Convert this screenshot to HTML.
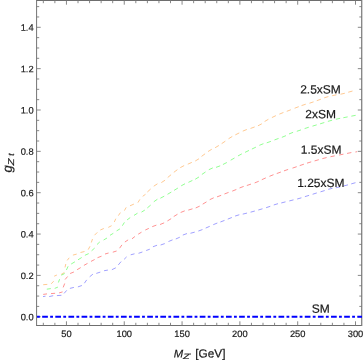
<!DOCTYPE html>
<html><head><meta charset="utf-8"><title>plot</title>
<style>html,body{margin:0;padding:0;background:#fff;overflow:hidden}body{width:363px;height:361px;position:relative;font-family:"Liberation Sans",sans-serif}</style>
</head><body>
<svg width="363" height="361" viewBox="0 0 363 361" style="position:absolute;left:0;top:0;font-family:'Liberation Sans',sans-serif;text-rendering:geometricPrecision;will-change:transform" fill="#1a1a1a" stroke="#1a1a1a" stroke-width="0.2">
<path d="M43.20 284.70L47.30 284.40M51.20 283.80L53.70 281.20M54.20 276.20L56.90 275.00M61.10 274.50L64.40 272.50M65.00 267.40L65.80 264.00M67.20 260.40L69.20 257.80M72.90 255.10L76.70 254.10M80.50 252.50L84.50 251.50M88.20 249.60L90.00 246.30M91.30 242.50L92.50 239.00M94.50 235.20L97.30 232.40M100.30 230.00L103.80 228.50M108.30 227.40L111.60 225.70M114.30 222.00L115.80 218.70M118.40 215.60L120.40 212.60M124.40 210.60L126.20 207.40M130.00 205.80L133.90 204.10M137.90 202.60L139.90 199.40M142.70 196.30L145.50 194.30M147.36 191.97L150.64 189.03M153.75 186.19L157.45 183.81M161.35 182.59L165.05 180.21M167.71 177.51L171.09 174.69M173.83 172.31L177.37 169.69M180.27 167.65L184.13 165.55M187.79 164.20L191.81 162.40M195.22 161.04L198.98 158.76M201.53 156.41L205.07 153.79M208.03 151.56L211.77 149.24M215.10 147.72L218.90 145.48M221.67 143.63L225.33 141.17M228.53 138.75L232.27 136.45M235.34 134.89L239.26 132.91M242.76 131.13L246.84 129.47M250.53 128.45L254.67 126.95M257.95 125.82L261.85 123.78M264.60 121.51L268.40 119.29M271.91 117.55L275.89 115.65M279.36 114.13L283.44 112.47M286.75 111.34L290.85 109.76M294.64 108.23L298.76 106.67M301.56 105.59L305.74 104.21M309.41 103.23L313.59 101.87M316.78 100.70L320.92 99.20M324.19 97.84L328.41 96.56M332.20 95.70L336.50 94.80M340.50 94.23L344.80 93.27M348.23 92.23L352.47 91.07" stroke="#ffaa55" stroke-width="1.0" stroke-opacity="0.64" fill="none"/>
<path d="M46.80 289.20L50.80 288.60M54.70 288.40L57.90 287.10M58.40 282.50L59.60 279.20M61.40 275.20L64.70 273.50M66.40 270.00L68.10 266.30M71.20 264.00L74.90 261.80M78.00 259.80L81.70 257.50M84.90 255.30L88.70 253.60M91.60 250.75L94.65 248.10M97.00 244.50L99.80 241.90M103.60 240.00L107.00 238.00M110.00 235.30L113.30 233.30M116.60 230.90L119.90 228.90M122.40 225.70L124.40 222.40M127.10 219.90L130.20 217.60M134.00 215.40L137.50 213.20M141.50 212.10L144.80 210.10M147.32 207.93L150.68 205.07M153.80 201.76L157.40 199.24M160.36 198.23L164.24 196.17M167.50 194.31L171.30 192.09M174.12 190.35L177.88 188.05M181.17 185.85L185.03 183.75M188.42 182.35L192.38 180.45M195.23 179.25L198.97 176.95M201.88 174.44L205.52 171.96M208.80 169.72L212.80 167.88M216.04 167.37L220.16 165.83M222.95 164.51L226.85 162.49M230.69 160.19L234.51 158.01M237.96 155.94L241.84 153.86M245.02 152.36L248.98 150.44M251.92 149.05L255.88 147.15M259.36 145.32L263.44 143.68M266.72 142.83L270.88 141.37M274.44 139.96L278.56 138.44M281.87 137.34L285.93 135.66M289.00 133.96L293.10 132.34M296.81 131.30L300.99 129.90M304.61 128.58L308.79 127.22M312.49 126.14L316.71 124.86M320.10 123.84L324.30 122.56M327.88 121.39L332.12 120.21M335.85 119.28L340.15 118.32M343.34 117.72L347.66 116.88M351.34 116.17L355.66 115.33" stroke="#55ff55" stroke-width="1.0" stroke-opacity="0.64" fill="none"/>
<path d="M43.20 294.40L47.00 293.90M51.00 293.60L55.10 293.30M59.10 292.90L62.60 291.90M63.20 287.40L64.70 283.50M65.10 279.50L67.60 276.50M70.10 273.50L73.90 272.00M77.10 269.70L80.70 267.60M83.90 265.40L87.50 263.40M91.00 261.40L94.65 259.50M97.50 257.70L101.50 256.20M105.00 254.00L108.60 253.00M112.80 252.20L116.60 251.00M119.60 248.20L121.90 244.90M124.90 242.00L128.10 239.90M132.00 238.80L134.90 236.50M138.20 234.20L141.50 232.20M145.30 230.00L148.80 228.40M152.23 226.66L156.37 225.14M160.06 224.53L164.14 222.87M167.43 220.95L171.17 218.65M173.72 216.54L177.48 214.26M180.66 212.47L184.74 210.83M188.30 210.10L192.50 208.80M195.70 207.96L199.70 206.14M202.71 204.12L206.49 201.88M209.71 199.70L213.69 197.80M217.04 196.87L221.16 195.33M224.44 193.98L228.56 192.42M232.26 191.11L236.34 189.49M239.54 187.98L243.66 186.42M246.82 185.50L250.98 184.10M254.66 182.92L258.74 181.28M261.79 179.70L265.81 177.90M269.46 176.32L273.54 174.68M276.74 173.56L280.86 172.04M283.97 170.86L288.13 169.44M292.51 168.10L296.69 166.70M299.72 165.60L303.88 164.20M307.00 163.15L311.20 161.85M314.58 160.90L318.82 159.70M322.37 158.64L326.63 157.56M330.45 156.75L334.75 155.85M339.14 155.03L343.46 154.17M347.04 153.44L351.36 152.56" stroke="#ff5555" stroke-width="1.0" stroke-opacity="0.64" fill="none"/>
<path d="M43.00 296.60L45.50 296.20M49.20 296.60L53.20 295.70M56.90 295.60L61.40 295.30M64.10 293.40L66.70 290.40M69.90 288.40L73.90 287.40M77.90 286.90L81.90 285.50M84.40 283.20L86.70 279.90M89.70 276.75L92.90 274.15M96.30 273.40L100.30 272.10M104.10 270.70L107.90 270.10M111.90 269.70L115.80 267.80M118.30 264.90L121.10 261.60M124.15 259.30L126.60 256.90M130.70 254.80L134.50 253.80M138.50 253.30L142.40 252.00M146.20 250.50L149.80 249.20M152.94 246.78L157.06 245.22M160.62 245.01L164.78 243.59M168.46 241.54L172.54 239.86M175.79 238.99L179.81 237.21M182.83 235.05L186.97 233.55M190.47 233.25L194.73 232.15M198.33 231.05L202.47 229.55M205.68 228.07L209.72 226.33M213.26 224.68L217.34 223.02M220.40 221.99L224.50 220.41M227.75 219.11L231.85 217.49M235.10 216.05L239.30 214.75M242.76 214.12L247.04 213.08M250.58 212.18L254.82 211.02M258.29 210.03L262.51 208.77M266.11 207.69L270.29 206.31M273.79 204.94L278.01 203.66M281.27 202.94L285.53 201.86M289.27 200.94L293.53 199.86M297.18 199.00L301.42 197.80M304.90 196.65L309.10 195.35M312.60 194.25L316.80 192.95M320.50 191.84L324.70 190.56M328.27 189.34L332.53 188.26M335.85 187.77L340.15 186.83M343.77 185.95L348.03 184.85M351.23 183.90L355.47 182.70" stroke="#6a6aff" stroke-width="1.0" stroke-opacity="0.64" fill="none"/>
<path d="M355.4 152.0L357.1 151.7" stroke="#ff5555" stroke-width="1.0" stroke-opacity="0.64" fill="none"/>
<path d="M362.0 0.5H36.0M36.0 325.5H362.0" fill="none" stroke="#6e6e6e" stroke-width="1"/>
<path d="M36.55 0.5V325.5" fill="none" stroke="#808080" stroke-width="1.1"/>
<path d="M361.72 0.0V326.0" fill="none" stroke="#7c7c7c" stroke-width="1.25"/>
<path d="M43.33 325.5v-2.7M43.33 0.5v2.7M54.89 325.5v-2.7M54.89 0.5v2.7M66.45 325.5v-4.2M66.45 0.5v4.2M78.01 325.5v-2.7M78.01 0.5v2.7M89.57 325.5v-2.7M89.57 0.5v2.7M101.14 325.5v-2.7M101.14 0.5v2.7M112.70 325.5v-2.7M112.70 0.5v2.7M124.26 325.5v-4.2M124.26 0.5v4.2M135.82 325.5v-2.7M135.82 0.5v2.7M147.38 325.5v-2.7M147.38 0.5v2.7M158.95 325.5v-2.7M158.95 0.5v2.7M170.51 325.5v-2.7M170.51 0.5v2.7M182.07 325.5v-4.2M182.07 0.5v4.2M193.63 325.5v-2.7M193.63 0.5v2.7M205.19 325.5v-2.7M205.19 0.5v2.7M216.76 325.5v-2.7M216.76 0.5v2.7M228.32 325.5v-2.7M228.32 0.5v2.7M239.88 325.5v-4.2M239.88 0.5v4.2M251.44 325.5v-2.7M251.44 0.5v2.7M263.00 325.5v-2.7M263.00 0.5v2.7M274.57 325.5v-2.7M274.57 0.5v2.7M286.13 325.5v-2.7M286.13 0.5v2.7M297.69 325.5v-4.2M297.69 0.5v4.2M309.25 325.5v-2.7M309.25 0.5v2.7M320.81 325.5v-2.7M320.81 0.5v2.7M332.38 325.5v-2.7M332.38 0.5v2.7M343.94 325.5v-2.7M343.94 0.5v2.7M355.50 325.5v-4.2M355.50 0.5v4.2M36.5 316.75h4.2M362.0 316.75h-4.2M36.5 306.41h2.7M362.0 306.41h-2.7M36.5 296.07h2.7M362.0 296.07h-2.7M36.5 285.74h2.7M362.0 285.74h-2.7M36.5 275.40h4.2M362.0 275.40h-4.2M36.5 265.06h2.7M362.0 265.06h-2.7M36.5 254.72h2.7M362.0 254.72h-2.7M36.5 244.39h2.7M362.0 244.39h-2.7M36.5 234.05h4.2M362.0 234.05h-4.2M36.5 223.71h2.7M362.0 223.71h-2.7M36.5 213.38h2.7M362.0 213.38h-2.7M36.5 203.04h2.7M362.0 203.04h-2.7M36.5 192.70h4.2M362.0 192.70h-4.2M36.5 182.36h2.7M362.0 182.36h-2.7M36.5 172.02h2.7M362.0 172.02h-2.7M36.5 161.69h2.7M362.0 161.69h-2.7M36.5 151.35h4.2M362.0 151.35h-4.2M36.5 141.01h2.7M362.0 141.01h-2.7M36.5 130.67h2.7M362.0 130.67h-2.7M36.5 120.34h2.7M362.0 120.34h-2.7M36.5 110.00h4.2M362.0 110.00h-4.2M36.5 99.66h2.7M362.0 99.66h-2.7M36.5 89.32h2.7M362.0 89.32h-2.7M36.5 78.99h2.7M362.0 78.99h-2.7M36.5 68.65h4.2M362.0 68.65h-4.2M36.5 58.31h2.7M362.0 58.31h-2.7M36.5 47.97h2.7M362.0 47.97h-2.7M36.5 37.64h2.7M362.0 37.64h-2.7M36.5 27.30h4.2M362.0 27.30h-4.2M36.5 16.96h2.7M362.0 16.96h-2.7M36.5 6.62h2.7M362.0 6.62h-2.7" stroke="#7a7a7a" stroke-width="0.9" fill="none"/>
<path d="M37 316.85H362.0" stroke="#0000ff" stroke-width="2.0" stroke-dasharray="5.7 2.3 2.8 2.33" stroke-dashoffset="7.96" fill="none"/>
<text x="66.45" y="337.1" transform="rotate(0.03 66.45 337.1)" font-size="9.3" text-anchor="middle">50</text>
<text x="124.26" y="337.1" transform="rotate(0.03 124.26 337.1)" font-size="9.3" text-anchor="middle">100</text>
<text x="182.07" y="337.1" transform="rotate(0.03 182.07 337.1)" font-size="9.3" text-anchor="middle">150</text>
<text x="239.88" y="337.1" transform="rotate(0.03 239.88 337.1)" font-size="9.3" text-anchor="middle">200</text>
<text x="297.69" y="337.1" transform="rotate(0.03 297.69 337.1)" font-size="9.3" text-anchor="middle">250</text>
<text x="355.5" y="337.1" transform="rotate(0.03 355.5 337.1)" font-size="9.3" text-anchor="middle">300</text>
<text x="33.6" y="320.25" transform="rotate(0.03 33.6 320.25)" font-size="9.3" text-anchor="end">0.0</text>
<text x="33.6" y="278.9" transform="rotate(0.03 33.6 278.9)" font-size="9.3" text-anchor="end">0.2</text>
<text x="33.6" y="237.55" transform="rotate(0.03 33.6 237.55)" font-size="9.3" text-anchor="end">0.4</text>
<text x="33.6" y="196.2" transform="rotate(0.03 33.6 196.2)" font-size="9.3" text-anchor="end">0.6</text>
<text x="33.6" y="154.85" transform="rotate(0.03 33.6 154.85)" font-size="9.3" text-anchor="end">0.8</text>
<text x="33.6" y="113.5" transform="rotate(0.03 33.6 113.5)" font-size="9.3" text-anchor="end">1.0</text>
<text x="33.6" y="72.15" transform="rotate(0.03 33.6 72.15)" font-size="9.3" text-anchor="end">1.2</text>
<text x="33.6" y="30.8" transform="rotate(0.03 33.6 30.8)" font-size="9.3" text-anchor="end">1.4</text>
<g font-size="12">
<text x="300.2" y="93.6" transform="rotate(0.03 300.2 93.6)">2.5xSM</text>
<text x="305.3" y="118.2" transform="rotate(0.03 305.3 118.2)">2xSM</text>
<text x="300.8" y="153.8" transform="rotate(0.03 300.8 153.8)">1.5xSM</text>
<text x="297.2" y="187.0" transform="rotate(0.03 297.2 187.0)">1.25xSM</text>
<text x="311.8" y="312.8" transform="rotate(0.03 311.8 312.8)">SM</text>
</g>
<text x="173.8" y="357.4" transform="rotate(0.03 173.8 357.4)" font-size="11.3" font-style="italic">M</text>
<text transform="translate(182.9,359.3) scale(1.42,1)" font-size="7.6" font-style="italic">Z</text>
<text x="189.4" y="357.6" font-size="7" font-style="italic" stroke="none">&#8242;</text>
<text x="195.3" y="357.4" transform="rotate(0.03 195.3 357.4)" font-size="11.8">[GeV]</text>
<g transform="translate(11.7,172.6) rotate(-89.97)" font-style="italic">
<text x="0" y="0" font-size="13">g</text>
<text transform="translate(7.2,2.3) scale(1.36,1)" font-size="8.4">Z</text>
<text x="14.8" y="1.2" font-size="6" stroke="none" fill-opacity="0.35">&#8242;</text>
<text x="16.9" y="2.3" font-size="8.4">t</text>
</g>
</svg>
</body></html>
